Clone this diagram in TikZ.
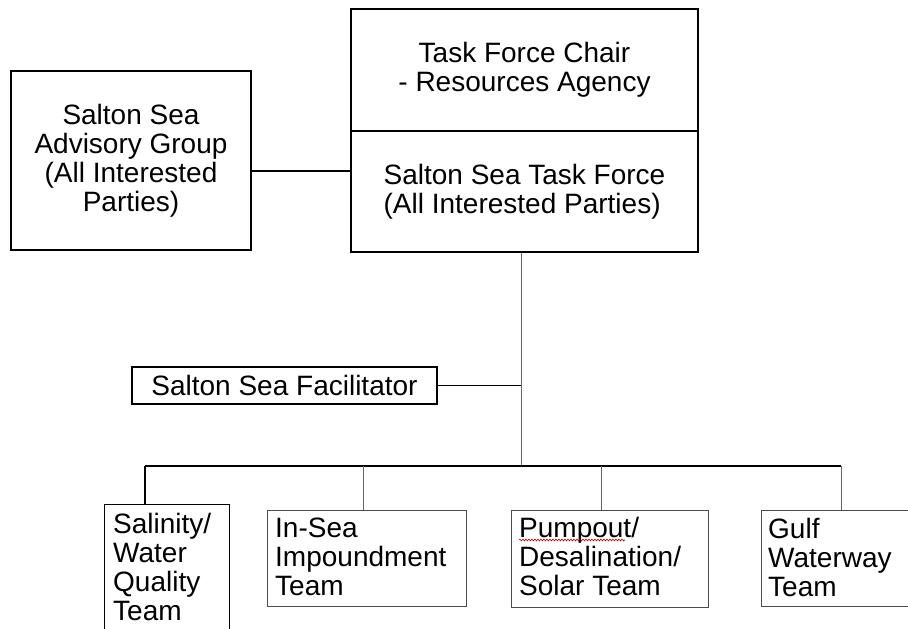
\documentclass[tikz,border=0pt]{standalone}
\usepackage{fontspec}
\setmainfont{Liberation Sans}
\usetikzlibrary{decorations.pathmorphing}
\begin{document}
\begin{tikzpicture}[x=1pt,y=-1pt,
  box/.style={draw, line width=1.2pt, inner sep=0pt},
  lightbox/.style={draw=black!70, line width=1pt, inner sep=0pt},
  lbl/.style={font=\fontsize{28}{29}\selectfont, inner sep=0pt},
  ln/.style={line width=1.2pt},
  lightln/.style={draw=black!60, line width=1pt}]
\useasboundingbox (0,0) rectangle (908,629);
\fill[white] (0,0) rectangle (908,629);
\clip (0,0) rectangle (908,629);

% top boxes
\node[box, lbl, minimum width=240pt, minimum height=179pt, align=center] (adv) at (131,160.5)
  {Salton Sea\\Advisory Group\\(All Interested\\Parties)};
\node[box, lbl, minimum width=347pt, minimum height=122pt, align=center] (chair) at (524.5,70)
  {Task Force Chair\\ - Resources Agency};
\node[box, lbl, minimum width=347pt, minimum height=121pt, align=left] (tf) at (524.5,191.5)
  {Salton Sea Task Force\\(All Interested Parties)};

% facilitator
\node[box, lbl, minimum width=305pt, minimum height=37pt] (fac) at (284.5,385.5) {Salton Sea Facilitator};

% bus coordinates
\coordinate (bus) at (521,466);
\coordinate (b1) at (145,466);
\coordinate (b2) at (363,466);
\coordinate (b3) at (601,466);
\coordinate (b4) at (841,466);

% bottom boxes
\node[box, anchor=north west, minimum width=125pt, minimum height=140pt] (s1) at (104,504) {};
\node[lbl, anchor=base west, align=left] (s1t) at (113,533) {Salinity/};
\node[lbl, anchor=base west] (s1t2) at (113,562) {Water};
\node[lbl, anchor=base west] (s1t3) at (113,591) {Quality};
\node[lbl, anchor=base west] (s1t4) at (113,620) {Team};

\node[lightbox, anchor=north west, minimum width=199pt, minimum height=96pt] (s2) at (267,510) {};
\node[lbl, anchor=base west] (s2t1) at (275,537) {In-Sea};
\node[lbl, anchor=base west] (s2t2) at (275,566) {Impoundment};
\node[lbl, anchor=base west] (s2t3) at (275,595) {Team};

\node[lightbox, anchor=north west, minimum width=197pt, minimum height=97pt] (s3) at (511,510) {};
\node[lbl, anchor=base west] (s3t1) at (519,537) {Pumpout/};
\node[lbl, anchor=base west] (s3t2) at (519,566) {Desalination/};
\node[lbl, anchor=base west] (s3t3) at (519,595) {Solar Team};

\node[lightbox, anchor=north west, minimum width=160pt, minimum height=96pt] (s4) at (761,510) {};
\node[lbl, anchor=base west] (s4t1) at (768,538) {Gulf};
\node[lbl, anchor=base west] (s4t2) at (768,567) {Waterway};
\node[lbl, anchor=base west] (s4t3) at (768,596) {Team};

% spell-check squiggle under Pumpout
\draw[red!70!black, line width=0.6pt, decorate, decoration={snake, amplitude=0.9pt, segment length=3pt}]
  ([yshift=-3pt]s3t1.base west) -- ([yshift=-3pt,xshift=-14pt]s3t1.base east);

% connectors
\draw[ln] ([yshift=-10.5pt]adv.east) -- ([yshift=-10.5pt]adv.east -| tf.west);
\draw[lightln] (bus |- tf.south) -- (bus);
\draw[ln] (fac.east) -- (fac.east -| bus);
\draw[ln] (b1) -- (b4);
\draw[ln] (b1) -- (b1 |- s1.north);
\draw[lightln] (b2) -- (b2 |- s2.north);
\draw[lightln] (b3) -- (b3 |- s3.north);
\draw[lightln] (b4) -- (b4 |- s4.north);
\end{tikzpicture}
\end{document}
